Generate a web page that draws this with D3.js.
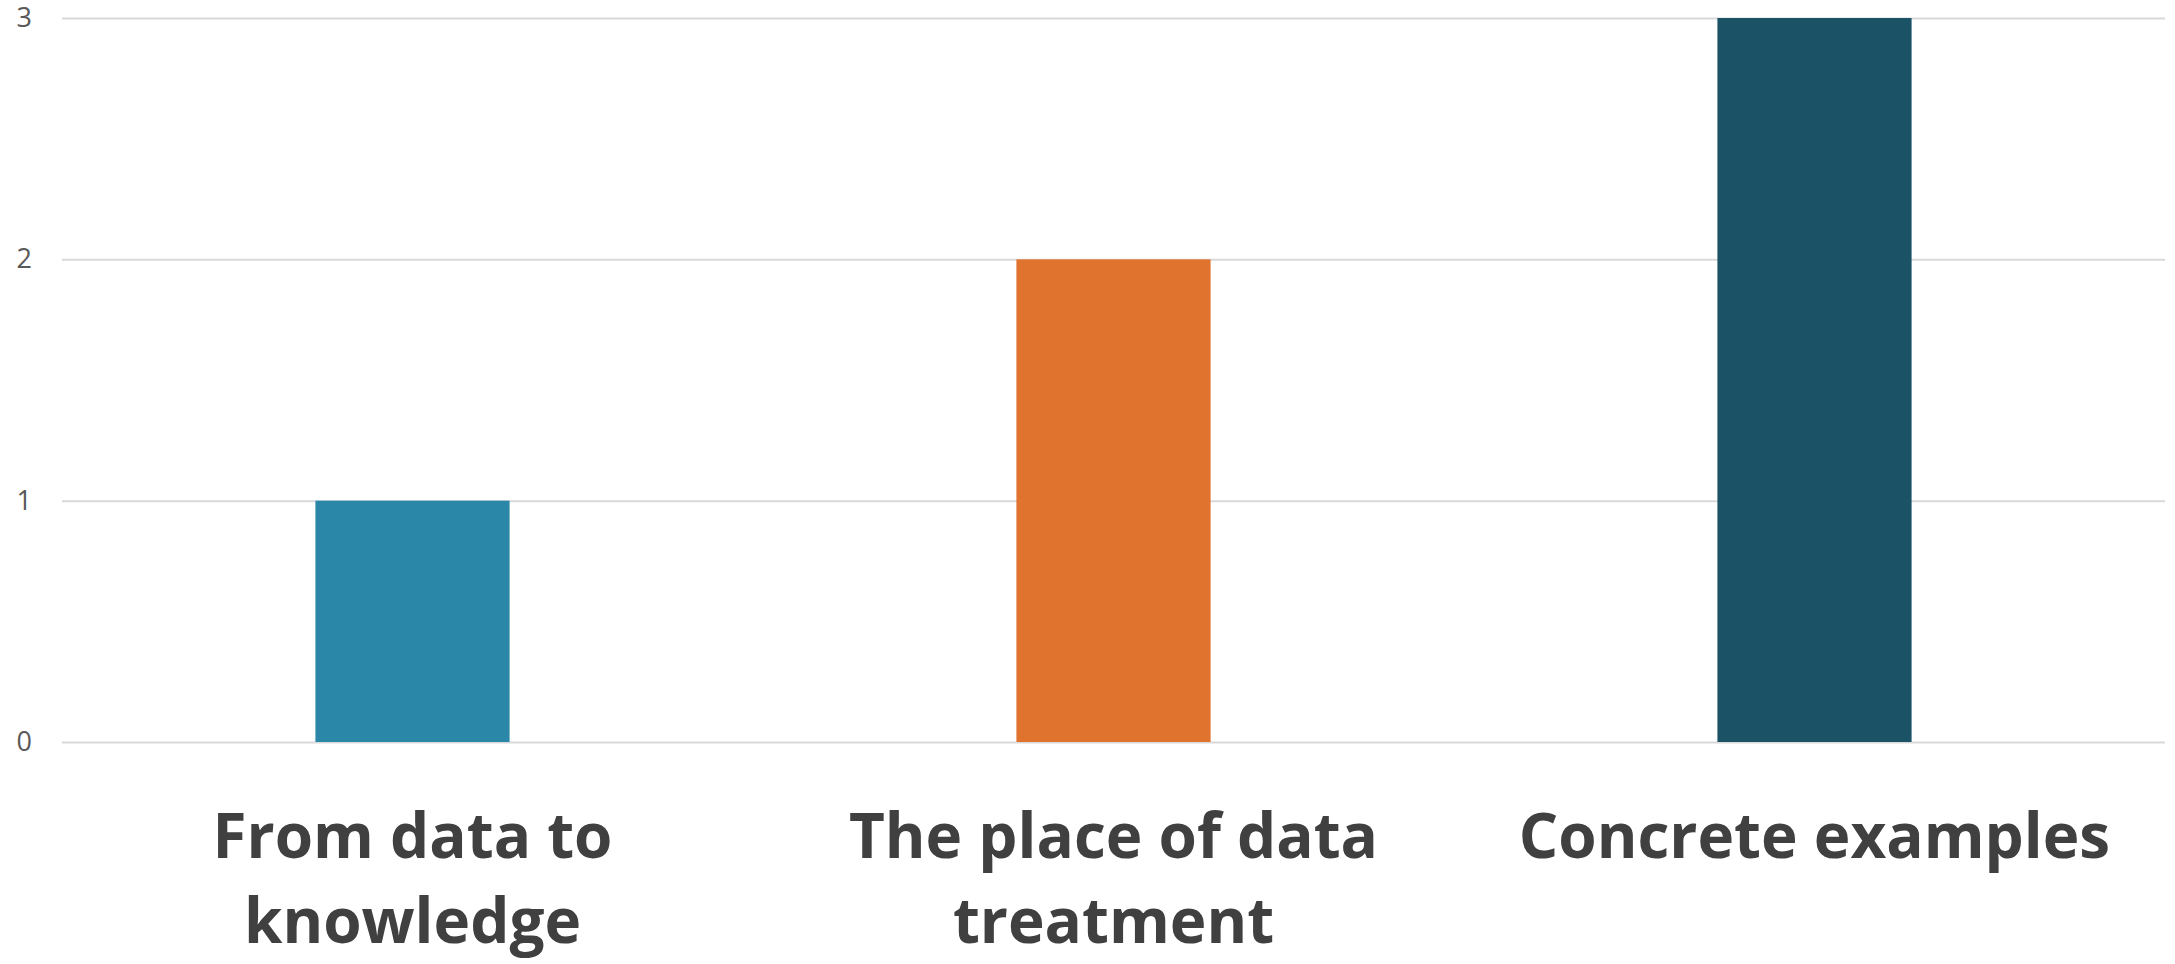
<!DOCTYPE html>
<html>
<head>
<meta charset="utf-8">
<script src="https://cdn.jsdelivr.net/npm/d3@7"></script>
<style>
  body { margin: 0; background: #fff; }
  svg { display: block; }
</style>
</head>
<body>
<div id="chart"></div>
<script>
//------------------------------DATA------------------------------//
const categories = ["From data to knowledge", "The place of data treatment", "Concrete examples"];
const labelLines = [["From data to", "knowledge"], ["The place of data", "treatment"], ["Concrete examples"]];
const values = [1, 2, 3];
const barColors = ["#2a87a7", "#e0742f", "#1c5265"];
const yTicks = [0, 1, 2, 3];

//------------------------------SVG-------------------------------//
const width = 2175;
const height = 964;
const margin = {top: 18, right: 10, bottom: 222, left: 62};
const innerW = width - margin.left - margin.right;
const innerH = height - margin.top - margin.bottom;

const svg = d3.select("#chart").append("svg")
  .attr("width", width)
  .attr("height", height);

const g = svg.append("g")
  .attr("transform", "translate(" + margin.left + "," + margin.top + ")");

//-----------------------------SCALES-----------------------------//
const xScale = d3.scaleBand()
  .domain(categories)
  .range([0, innerW])
  .paddingInner(0.723)
  .paddingOuter(0.3615);

const yScale = d3.scaleLinear()
  .domain([0, 3])
  .range([innerH, 0]);

//------------------------------GRID------------------------------//
g.append("g")
  .attr("class", "grid")
  .call(d3.axisLeft(yScale).tickValues(yTicks).tickSize(-innerW).tickFormat(""))
  .call(s => s.select(".domain").remove())
  .selectAll("line")
  .style("stroke", "#d9d9d9")
  .style("stroke-width", 2);

// y labels
g.append("g")
  .call(d3.axisLeft(yScale).tickValues(yTicks).tickSize(0).tickPadding(30).tickFormat(d3.format("d")))
  .call(s => s.select(".domain").remove())
  .selectAll("text")
  .style("font-family", "'Open Sans', sans-serif")
  .style("font-size", "27px")
  .style("fill", "#595959");

//------------------------------BARS------------------------------//
g.selectAll(".bar")
  .data(values)
  .enter()
  .append("rect")
  .attr("class", "bar")
  .attr("x", (d, i) => xScale(categories[i]))
  .attr("y", d => yScale(d))
  .attr("width", xScale.bandwidth())
  .attr("height", d => yScale(0) - yScale(d))
  .style("fill", (d, i) => barColors[i]);

//------------------------------X AXIS----------------------------//
const xAxis = g.append("g")
  .attr("transform", "translate(0," + innerH + ")")
  .call(d3.axisBottom(xScale).tickSize(0).tickFormat(""));
xAxis.select(".domain").remove();

xAxis.selectAll(".tick")
  .each(function(d, i) {
    const t = d3.select(this).append("text")
      .attr("text-anchor", "middle")
      .style("font-family", "'Open Sans', sans-serif")
      .style("font-weight", "bold")
      .style("font-size", "62px")
      .style("fill", "#404040");
    labelLines[i].forEach((line, j) => {
      t.append("tspan")
        .attr("x", 0)
        .attr("y", 116 + j * 85)
        .text(line);
    });
  });
</script>
</body>
</html>
